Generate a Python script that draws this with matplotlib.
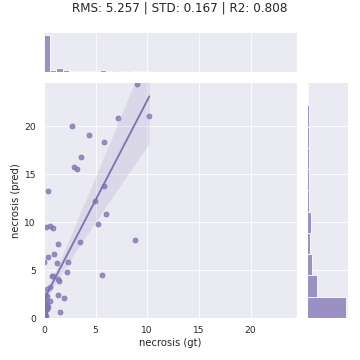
import matplotlib
matplotlib.use('Agg')
import matplotlib.pyplot as plt
import numpy as np
import seaborn as sns

gt_visible = [9.03, 7.2, 10.2, 2.75, 4.4, 5.85, 3.6, 2.95, 3.2, 5.85,
              0.42, 4.9, 6.05, 5.2, 0.19, 0.58, 0.9, 8.77, 1.39, 3.5,
              1.0, 0.42, 0.0, 1.3, 2.36, 0.8, 0.9, 5.66, 2.26, 1.39,
              1.49, 0.58, 0.29, 1.39, 1.97, 0.58, 0.2, 0.29, 1.58, 0.0]
pred_visible = [24.4, 20.8, 21.1, 19.97, 19.1, 18.3, 16.8, 15.7, 15.5, 13.8,
                13.2, 12.2, 10.8, 9.85, 9.45, 9.55, 9.35, 8.1, 7.7, 7.9,
                6.7, 6.4, 5.8, 5.7, 5.8, 4.35, 4.35, 4.45, 4.75, 4.06,
                3.85, 3.27, 3.05, 2.36, 2.05, 1.8, 2.0, 0.94, 0.59, 0.1]

# dense cluster near the origin (cases with no necrosis)
gt_cluster = [0.0] * 38 + [0.05, 0.1, 0.12, 0.15, 0.08, 0.2, 0.25, 0.3, 0.1, 0.35, 0.15, 0.05]
pred_cluster = [0, 0, 0, 0, 0, 0, 0.05, 0.1, 0.15, 0.2, 0.3, 0.35, 0.4, 0.5, 0.55,
                0.6, 0.7, 0.75, 0.8, 0.9, 1.0, 1.05, 1.1, 1.2, 1.3, 1.4, 1.5, 1.6,
                1.7, 1.8, 1.9, 2.0, 2.1, 2.2, 2.3, 2.35, 2.4, 2.42,
                0.3, 1.2, 0.6, 2.2, 1.7, 0.2, 1.4, 2.3, 2.38, 1.1, 0.9, 1.5]

gt = np.array(gt_visible + gt_cluster)
pred = np.array(pred_visible + pred_cluster)

title = 'RMS: 5.257 | STD: 0.167 | R2: 0.808'

sns.set_theme(style='darkgrid')
color = sns.color_palette('deep')[4]

g = sns.jointplot(x=gt, y=pred, kind='reg', color=color, height=6,
                  joint_kws=dict(seed=0), marginal_kws=dict(kde=False))
g.ax_joint.set_xlim(0, 24.5)
g.ax_joint.set_ylim(0, 24.5)
g.ax_joint.set_xticks([0, 5, 10, 15, 20])
g.ax_joint.set_yticks([0, 5, 10, 15, 20])
g.set_axis_labels('necrosis (gt)', 'necrosis (pred)')

W = 360.0
g.ax_joint.set_position([44 / W, 42 / W, 253 / W, 235 / W])
g.ax_marg_x.set_position([44 / W, 288 / W, 253 / W, 39 / W])
g.ax_marg_y.set_position([307 / W, 42 / W, 41 / W, 235 / W])

g.fig.text(0.5, 1 - 1 / W, title, ha='center', va='top', fontsize=14.4)

g.fig.savefig('out.png', dpi=60)
